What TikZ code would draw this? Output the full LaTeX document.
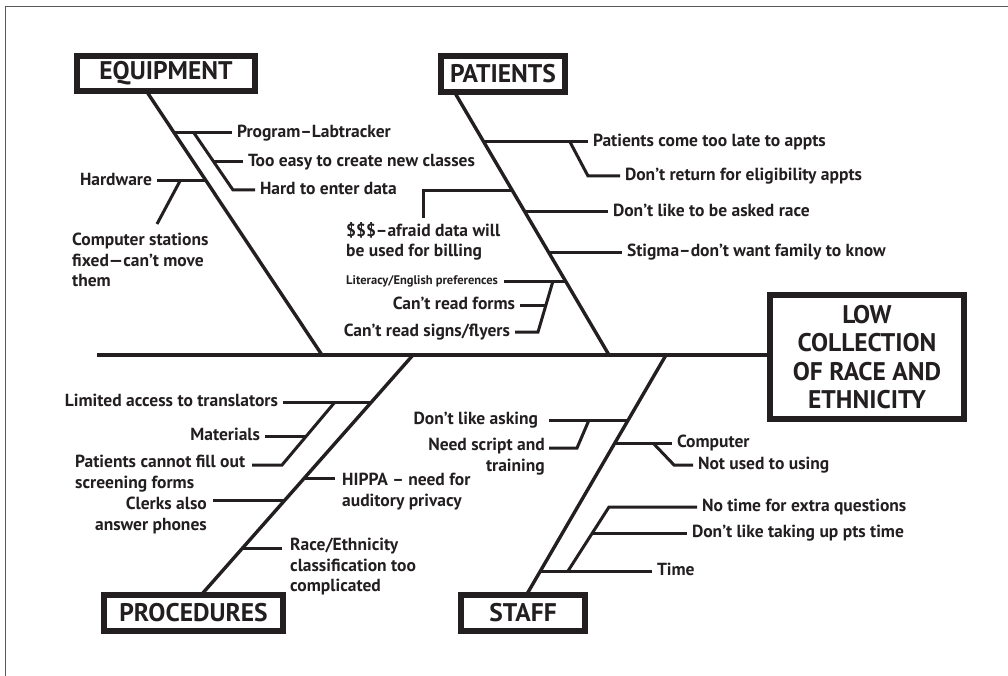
\documentclass[tikz,border=0pt]{standalone}
\usepackage{fontspec}
\setmainfont{PT Sans}
\usetikzlibrary{calc}
\definecolor{ink}{HTML}{231F20}

\begin{document}
\begin{tikzpicture}[x=1pt,y=-1pt,
    bone/.style={line width=3.4pt, draw=ink},
    twig/.style={line width=3pt, draw=ink},
    catbox/.style={draw=ink, line width=6pt, inner sep=0pt, text=ink,
      font=\bfseries\fontsize{25.5}{28.5}\selectfont},
    lbl/.style={inner sep=1pt, outer sep=4pt, text=ink, text height=12pt, text depth=2.5pt,
      font=\bfseries\fontsize{17.5}{20.5}\selectfont},
    note/.style={inner sep=0pt, text=ink, font=\bfseries\fontsize{17.5}{20.5}\selectfont}]
    \useasboundingbox (0,0) rectangle (1008,676);
    \draw[black!65, line width=1pt] (5,676) -- (5,6.5) -- (1008,6.5);

    % head and spine
    \node[catbox, minimum width=194pt, minimum height=124pt, align=center] (effect) at (867,357)
      {LOW\\COLLECTION\\OF RACE AND\\ETHNICITY};
    \coordinate (tail) at (97,355);
    \draw[bone] (tail) -- (tail -| effect.west);

    % categories
    \node[catbox, minimum width=178pt, minimum height=35pt] (equip) at (166,73.5) {EQUIPMENT};
    \node[catbox, minimum width=124pt, minimum height=36pt] (pat) at (503,74) {PATIENTS};
    \node[catbox, minimum width=179pt, minimum height=36pt] (proc) at (193.5,613) {PROCEDURES};
    \node[catbox, minimum width=124pt, minimum height=36pt] (staff) at (523,613) {STAFF};

    \coordinate (eqA) at (147,92);
    \coordinate (eqB) at (322,355);
    \coordinate (paA) at (455,93);
    \coordinate (paB) at (609,355);
    \coordinate (prA) at (202,594);
    \coordinate (prB) at (413,355);
    \coordinate (stA) at (527,594);
    \coordinate (stB) at (666,355);
    \draw[bone] (eqA) -- (eqB);
    \draw[bone] (paA) -- (paB);
    \draw[bone] (prA) -- (prB);
    \draw[bone] (stA) -- (stB);

    % equipment
    \node[lbl, anchor=west] (prog) at (232,133) {Program--Labtracker};
    \node[lbl, anchor=west] (easy) at (243,162) {Too easy to create new classes};
    \node[lbl, anchor=west] (hard) at (255,190) {Hard to enter data};
    \coordinate (eq1) at (173,133);
    \coordinate (eq1b) at (194,133);
    \coordinate (eq1c) at (233,190);
    \coordinate (eq2) at (214,162);
    \draw[twig] (eq1) -- (prog.west);
    \draw[twig] (eq1b) -- (eq1c) -- (hard.west);
    \draw[twig] (eq2) -- (easy.west);
    \node[lbl, anchor=east] (hw) at (157,181) {Hardware};
    \coordinate (eq3) at (205,181);
    \coordinate (eq3b) at (180,181);
    \coordinate (fixend) at (157,224);
    \draw[twig] (eq3) -- (hw.east);
    \draw[twig] (eq3b) -- (fixend);
    \node[note, align=left, anchor=north west] (fixed) at (72,233)
      {Computer stations\\fixed---can't move\\them};

    % patients
    \node[lbl, anchor=west] (late) at (588,142) {Patients come too late to appts};
    \node[lbl, anchor=west] (ret) at (620,176) {Don't return for eligibility appts};
    \node[lbl, anchor=west] (asked) at (608,212) {Don't like to be asked race};
    \node[lbl, anchor=west] (stig) at (622,252) {Stigma--don't want family to know};
    \coordinate (pa1) at (483,142);
    \coordinate (pa1b) at (570,142);
    \coordinate (pa1c) at (588,176);
    \coordinate (pa2) at (524,212);
    \coordinate (pa3) at (548,252);
    \draw[twig] (pa1) -- (late.west);
    \draw[twig] (pa1b) -- (pa1c) -- (ret.west);
    \draw[twig] (pa2) -- (asked.west);
    \draw[twig] (pa3) -- (stig.west);
    \coordinate (pa4) at (512,191);
    \coordinate (billend) at (423,218);
    \draw[twig] (pa4) -- (pa4 -| billend) -- (billend);
    \node[note, align=left, anchor=north west] (bill) at (346,222)
      {\$\$\$--afraid data will\\be used for billing};
    \node[lbl, anchor=east, font=\bfseries\fontsize{12.5}{15}\selectfont,
      text height=9pt, text depth=2pt, outer sep=5pt] (lit) at (504,281) {Literacy/English preferences};
    \node[lbl, anchor=east] (forms) at (520,305) {Can't read forms};
    \node[lbl, anchor=east] (signs) at (515,332) {Can't read signs/flyers};
    \coordinate (pa5) at (565,281);
    \coordinate (pa5b) at (553,281);
    \coordinate (pa5c) at (538,332);
    \coordinate (pa6) at (546,305);
    \draw[twig] (pa5) -- (lit.east);
    \draw[twig] (pa5b) -- (pa5c) -- (signs.east);
    \draw[twig] (pa6) -- (forms.east);

    % procedures
    \node[lbl, anchor=east] (trans) at (283,402) {Limited access to translators};
    \node[lbl, anchor=east] (mat) at (265,436) {Materials};
    \coordinate (pr1) at (371,402);
    \coordinate (pr1b) at (335,402);
    \coordinate (pr1c) at (282,465);
    \coordinate (fillend) at (252,465);
    \coordinate (pr2) at (306,436);
    \draw[twig] (pr1) -- (trans.east);
    \draw[twig] (pr1b) -- (pr1c) -- (fillend);
    \draw[twig] (pr2) -- (mat.east);
    \node[note, align=left, anchor=north west] (fill) at (75,455)
      {Patients cannot fill out\\screening forms};
    \coordinate (pr3) at (284,500);
    \coordinate (clerkend) at (213,500);
    \draw[twig] (pr3) -- (clerkend);
    \node[note, align=right, anchor=north east] (clerks) at (207,497)
      {Clerks also\\answer phones};
    \coordinate (pr4) at (304,478);
    \coordinate (hipend) at (335,478);
    \draw[twig] (pr4) -- (hipend);
    \node[note, align=left, anchor=north west] (hippa) at (342,473)
      {HIPPA -- need for\\auditory privacy};
    \coordinate (pr5) at (241,548);
    \coordinate (raceend) at (282,548);
    \draw[twig] (pr5) -- (raceend);
    \node[note, align=left, anchor=north west] (classif) at (290,538)
      {Race/Ethnicity\\classification too\\complicated};

    % staff
    \node[lbl, anchor=east] (ask) at (543,420) {Don't like asking};
    \coordinate (st1) at (628,420);
    \coordinate (st1b) at (589,420);
    \coordinate (st1c) at (577,448);
    \coordinate (scriptend) at (549,448);
    \draw[twig] (st1) -- ([xshift=6pt]ask.east);
    \draw[twig] (st1b) -- (st1c) -- (scriptend);
    \node[note, align=right, anchor=north east] (script) at (545,438)
      {Need script and\\training};
    \node[lbl, anchor=west] (comp) at (672,443) {Computer};
    \node[lbl, anchor=west] (unused) at (693,465) {Not used to using};
    \coordinate (st2) at (614,443);
    \coordinate (st2b) at (653,443);
    \coordinate (st2c) at (674,465);
    \draw[twig] (st2) -- (comp.west);
    \draw[twig] (st2b) -- (st2c) -- (unused.west);
    \node[lbl, anchor=west] (time) at (652,571) {Time};
    \node[lbl, anchor=west] (extra) at (697,507) {No time for extra questions};
    \node[lbl, anchor=west] (ptstime) at (687,533) {Don't like taking up pts time};
    \coordinate (st3) at (539,571);
    \coordinate (st3b) at (568,571);
    \coordinate (st3c) at (609,507);
    \coordinate (st4) at (592,533);
    \draw[twig] (st3) -- (time.west);
    \draw[twig] (st3b) -- (st3c) -- (extra.west);
    \draw[twig] (st4) -- (ptstime.west);
  \end{tikzpicture}
\end{document}
